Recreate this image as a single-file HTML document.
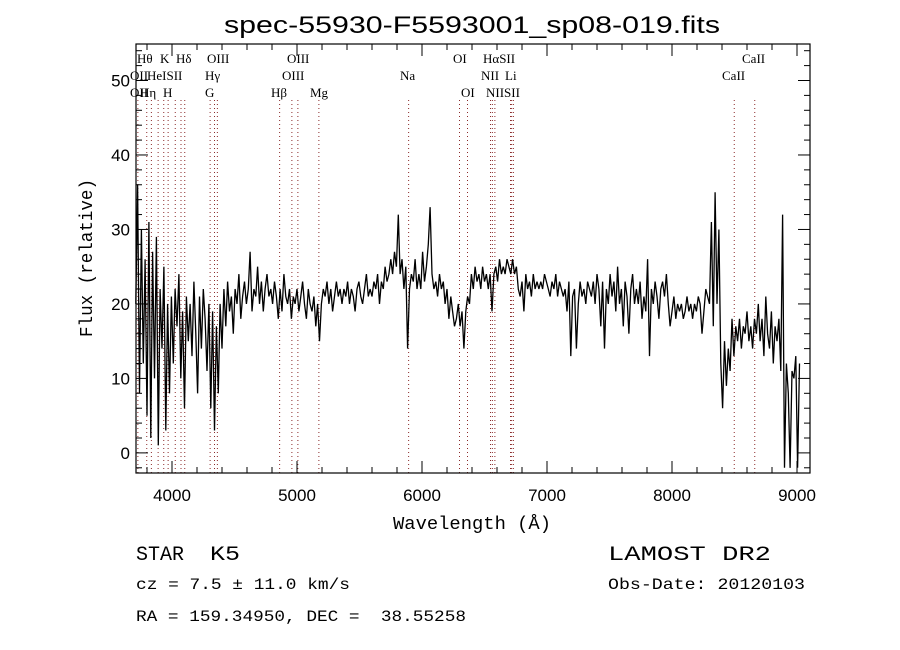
<!DOCTYPE html>
<html><head><meta charset="utf-8"><style>
html,body{margin:0;padding:0;background:#fff;width:900px;height:650px;overflow:hidden}
svg text{fill:#000}
</style></head><body>
<svg id="chart" width="900" height="650" xmlns="http://www.w3.org/2000/svg">
<rect width="900" height="650" fill="#fff"/>
<text x="224" y="33" textLength="496" lengthAdjust="spacingAndGlyphs" font-family="Liberation Sans, sans-serif" font-size="24">spec-55930-F5593001_sp08-019.fits</text>
<g id="lines"></g>
<g id="ticks"></g>
<path id="spec" fill="none" stroke="#000" stroke-width="1.3"/>
<rect x="136" y="44" width="674" height="429" fill="none" stroke="#000" stroke-width="1.2"/>
<text x="393" y="529" textLength="158" lengthAdjust="spacingAndGlyphs" font-family="Liberation Mono, monospace" font-size="18">Wavelength (Å)</text>
<text transform="translate(92,337) rotate(-90)" textLength="158" lengthAdjust="spacingAndGlyphs" font-family="Liberation Mono, monospace" font-size="18">Flux (relative)</text>
<text x="136" y="560" textLength="48" lengthAdjust="spacingAndGlyphs" font-family="Liberation Mono, monospace" font-size="20">STAR</text>
<text x="210" y="560" textLength="30" lengthAdjust="spacingAndGlyphs" font-family="Liberation Mono, monospace" font-size="20">K5</text>
<text x="136" y="589" textLength="214" lengthAdjust="spacingAndGlyphs" font-family="Liberation Mono, monospace" font-size="16">cz = 7.5 ± 11.0 km/s</text>
<text x="136" y="621" textLength="330" lengthAdjust="spacingAndGlyphs" font-family="Liberation Mono, monospace" font-size="16" xml:space="preserve">RA = 159.34950, DEC =  38.55258</text>
<text x="608" y="560" textLength="163" lengthAdjust="spacingAndGlyphs" font-family="Liberation Mono, monospace" font-size="20">LAMOST DR2</text>
<text x="608" y="589" textLength="197" lengthAdjust="spacingAndGlyphs" font-family="Liberation Mono, monospace" font-size="16">Obs-Date: 20120103</text>
</svg>
<script>
const waveStart = 3710;
const waveStep = 15;
const flux = [20,36,8,30,12,26,5,
31,2,27,10,29,1,22,14,25,3,20,8,21,
12,22,17,24,10,19,6,21,15,20,13,23,16,8,21,14,22,18,11,20,
6,19,3,17,8,20,14,
22,17,23,19,21,16,22,20,24,18,21,23,20,
22,27,19,22,21,25,20,23,19,22,24,21,22,
20,23,21,18,22,19,24,21,20,22,18,21,20,
22,19,21,23,20,18,22,20,19,21,17,20,15,
20,22,21,23,20,22,19,21,23,21,22,20,22,
21,23,20,22,21,19,22,23,21,20,22,24,21,
22,21,23,22,24,20,23,22,25,23,24,26,24,
27,25,32,24,26,22,25,14,22,24,23,26,22,
24,22,27,23,25,28,33,24,22,23,21,24,22,
23,20,22,18,21,19,17,18,20,17,19,14,19,
21,20,24,22,25,23,24,22,25,23,24,22,24,
19,24,25,23,26,24,25,24,26,25,24,26,24,
25,22,21,23,19,24,22,23,21,24,22,23,22,
23,22,24,23,22,21,23,22,24,21,23,22,21,
22,19,23,13,21,22,14,20,23,21,22,20,23,
22,21,23,20,24,22,17,23,14,22,20,24,21,
23,19,25,20,22,17,23,21,16,22,24,20,22,
20,23,18,21,19,26,13,22,20,23,21,18,22,
23,21,24,20,17,19,21,18,20,19,20,18,19,
21,19,20,18,20,19,21,20,16,19,22,21,20,
31,17,35,20,30,12,6,15,9,14,11,18,13,
17,15,18,14,17,16,19,15,17,14,18,16,20,
15,18,13,21,16,14,19,12,17,15,18,11,32,
-2,12,8,-2,11,10,13,-2,12];
const xTicks = [4000,5000,6000,7000,8000,9000];
const yTicks = [0,10,20,30,40,50];
const lineWaves = [3727,3798,3835,3889,3934,3969,4026,4072,4102,4305,4340,4363,4861,4959,5007,5175,5893,6300,6364,6548,6563,6583,6708,6717,6731,8498,8662];
const lineLabels = [
 ["Hθ",137,1],["K",160,1],["Hδ",176,1],["OIII",207,1],["OIII",287,1],["OI",453,1],["HαSII",483,1],["CaII",742,1],
 ["OII",130,2],["HeISII",147,2],["Hγ",205,2],["OIII",282,2],["Na",400,2],["NII",481,2],["Li",505,2],["CaII",722,2],
 ["OII",130,3],["Hη",140,3],["H",163,3],["G",205,3],["Hβ",271,3],["Mg",310,3],["OI",461,3],["NIISII",486,3]];
const X0=136,X1=810,Y0=44,Y1=473,WMIN=3712,WMAX=9104,FMIN=-2.7,FMAX=54.9;
const xs=w=>X0+(w-WMIN)/(WMAX-WMIN)*(X1-X0);
const ys=f=>Y1-(f-FMIN)/(FMAX-FMIN)*(Y1-Y0);
const NS="http://www.w3.org/2000/svg";
let d="";
flux.forEach((f,i)=>{const w=waveStart+i*waveStep;d+=(i?"L":"M")+xs(w).toFixed(1)+","+ys(Math.max(FMIN,f)).toFixed(1);});
document.getElementById("spec").setAttribute("d",d);
const lg=document.getElementById("lines");
lineWaves.forEach(w=>{const l=document.createElementNS(NS,"line");


l.setAttribute("x1",xs(w));l.setAttribute("x2",xs(w));l.setAttribute("y1",100);l.setAttribute("y2",Y1);
l.setAttribute("stroke","#8b2a2a");l.setAttribute("stroke-width","1");l.setAttribute("stroke-dasharray","1,3");lg.appendChild(l);});
lineLabels.forEach(a=>{const t=document.createElementNS(NS,"text");


t.setAttribute("x",a[1]);t.setAttribute("y",46+a[2]*17);t.setAttribute("font-family","Liberation Serif, serif");t.setAttribute("font-size","13");t.textContent=a[0];lg.appendChild(t);});
const tg=document.getElementById("ticks");
function tick(x1,y1,x2,y2){const l=document.createElementNS(NS,"line");


l.setAttribute("x1",x1);l.setAttribute("y1",y1);l.setAttribute("x2",x2);l.setAttribute("y2",y2);l.setAttribute("stroke","#000");tg.appendChild(l);}
for(let w=3800;w<=9100;w+=200){const major=w%1000===0;const L=major?12:6;tick(xs(w),Y1,xs(w),Y1-L);tick(xs(w),Y0,xs(w),Y0+L);}
for(let f=-2;f<=54;f+=2){const major=f%10===0;const L=major?12:6;tick(X0,ys(f),X0+L,ys(f));tick(X1,ys(f),X1-L,ys(f));}
xTicks.forEach(w=>{const t=document.createElementNS(NS,"text");


t.setAttribute("x",xs(w));t.setAttribute("y",Y1+28);t.setAttribute("text-anchor","middle");t.setAttribute("font-family","Liberation Sans, sans-serif");t.setAttribute("font-size","17");t.textContent=w;tg.appendChild(t);});
yTicks.forEach(f=>{const t=document.createElementNS(NS,"text");


t.setAttribute("x",X0-6);t.setAttribute("y",ys(f)+6);t.setAttribute("text-anchor","end");t.setAttribute("font-family","Liberation Sans, sans-serif");t.setAttribute("font-size","17");t.textContent=f;tg.appendChild(t);});
</script>
</body></html>
